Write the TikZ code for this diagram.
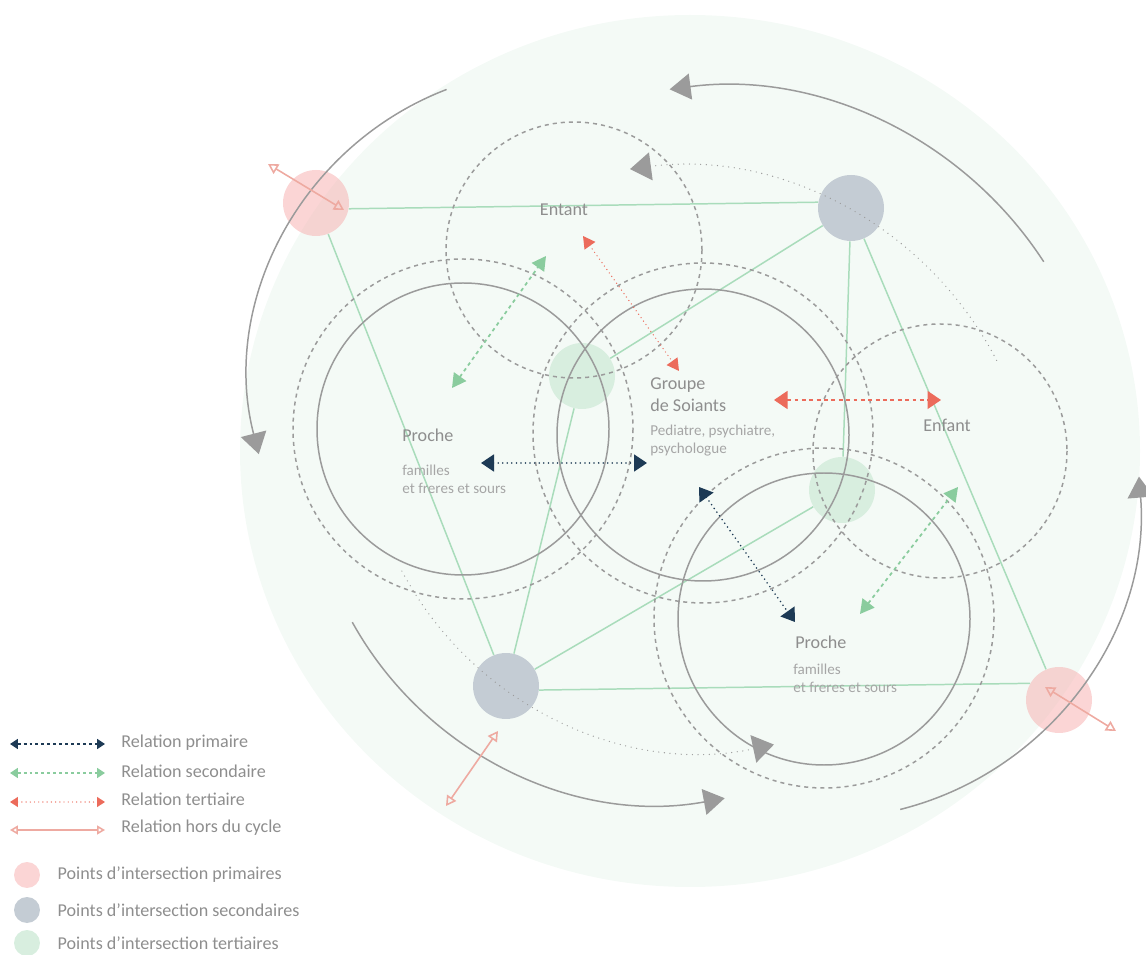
\documentclass[tikz,border=0pt]{standalone}
\usepackage{fontspec}
\setmainfont{Carlito}
\usepackage{xcolor}
\usetikzlibrary{
  arrows.meta,
  positioning
}

\definecolor{mint}{HTML}{F4FAF6}
\definecolor{ringgray}{HTML}{9B9B9B}
\definecolor{linkgreen}{HTML}{A9DCBB}
\definecolor{navy}{HTML}{1D3A55}
\definecolor{sage}{HTML}{8ACC9E}
\definecolor{coral}{HTML}{EC6B5B}
\definecolor{salmon}{HTML}{EEAAA1}
\definecolor{dotpink}{HTML}{F7B3B3}
\definecolor{dotslate}{HTML}{C4CCD4}
\definecolor{dotmint}{HTML}{D8EEDF}
\definecolor{headgray}{HTML}{8E8E8E}
\definecolor{notegray}{HTML}{A6A6A6}

\begin{document}
\begin{tikzpicture}[x=0.02cm, y=-0.02cm,
    ring/.style={draw=ringgray, line width=0.85pt},
    dashring/.style={ring, dash pattern=on 2.3pt off 2.3pt},
    dotarc/.style={draw=ringgray, line width=0.75pt, line cap=round, dash pattern=on 0pt off 3.2pt,
      -{Triangle[length=0.42cm, width=0.56cm]}},
    cyclearc/.style={draw=ringgray, line width=0.85pt, -{Triangle[length=0.42cm, width=0.52cm]}},
    link/.style={draw=linkgreen, line width=0.85pt},
    dot/.style={circle, inner sep=0pt, minimum size=1.32cm},
    keydot/.style={circle, inner sep=0pt, minimum size=0.52cm},
    primary/.style={draw=navy, line width=1pt, line cap=round, dash pattern=on 0pt off 2.6pt,
      {Triangle[length=0.26cm, width=0.34cm]}-{Triangle[length=0.26cm, width=0.34cm]}},
    secondary/.style={draw=sage, line width=1pt, dash pattern=on 2pt off 2pt,
      {Triangle[length=0.28cm, width=0.3cm]}-{Triangle[length=0.28cm, width=0.3cm]}},
    tertiary/.style={draw=coral, line width=0.8pt, line cap=round, dash pattern=on 0pt off 2.4pt,
      {Triangle[length=0.24cm, width=0.26cm]}-{Triangle[length=0.24cm, width=0.26cm]}},
    outside/.style={draw=salmon, line width=0.9pt,
      {Triangle[open, length=0.2cm, width=0.22cm]}-{Triangle[open, length=0.2cm, width=0.22cm]}},
    keytips/.style={{Triangle[length=0.16cm, width=0.2cm]}-{Triangle[length=0.16cm, width=0.2cm]}},
    heading/.style={text=headgray, font=\fontsize{10.3}{12.5}\selectfont, inner sep=0pt, align=left},
    note/.style={text=notegray, font=\fontsize{8.6}{10.2}\selectfont, inner sep=0pt, align=left},
    keytext/.style={text=headgray, font=\fontsize{10.3}{12}\selectfont, inner sep=0pt, anchor=west}]
  \useasboundingbox (0,0) rectangle (1146,955);

  \fill[mint] (690,451) ellipse[x radius=450, y radius=436];

  \node [dot, fill=dotpink, fill opacity=0.55] (pinkA) at (316,203) {};
  \node [dot, fill=dotpink, fill opacity=0.55] (pinkB) at (1059,700) {};
  \node [dot, fill=dotslate] (slateA) at (851,208) {};
  \node [dot, fill=dotslate] (slateB) at (506,686) {};
  \node [dot, fill=dotmint] (mintA) at (582,376) {};
  \node [dot, fill=dotmint] (mintB) at (842,490) {};

  \draw [link] (pinkA.-10) -- (slateA.170);
  \draw [link] (pinkA) -- (slateB);
  \draw [link] (slateA) -- (mintA);
  \draw [link] (slateA) -- (mintB);
  \draw [link] (slateA) -- (pinkB);
  \draw [link] (slateB) -- (mintA);
  \draw [link] (slateB) -- (mintB);
  \draw [link] (slateB.-7) -- (pinkB.150);

  \draw [ring] (463,429) circle[radius=146];
  \draw [ring] (703,435) circle[radius=146];
  \draw [ring] (824,619) circle[radius=146];
  \draw [dashring] (463,429) circle[radius=170];
  \draw [dashring] (703,433) circle[radius=170];
  \draw [dashring] (824,618) circle[radius=170];
  \draw [dashring] (574,250) circle[radius=128];
  \draw [dashring] (940,451) circle[radius=127];

  \draw [dotarc] (677,526) ++(-27.4:360) arc[start angle=-27.4, end angle=-97.5, radius=360];
  \draw [dotarc] (703,411) ++(152:341) arc[start angle=152, end angle=78, radius=341];

  \draw [cyclearc] (720,472) ++(-33:386) arc[start angle=-33, end angle=-97.5, radius=386];
  \draw [cyclearc] (557,377) ++(-111:308) arc[start angle=-111, end angle=-194.5, radius=308];
  \draw [cyclearc] (661,451) ++(151:353) arc[start angle=151, end angle=79.6, radius=353];
  \draw [cyclearc] (823,502) ++(75.9:317) arc[start angle=75.9, end angle=-4.6, radius=317];

  \coordinate (outA1) at (268,164);
  \coordinate (outA2) at (344,210);
  \coordinate (outB1) at (1045,687);
  \coordinate (outB2) at (1116,731);
  \coordinate (outC1) at (498,731);
  \coordinate (outC2) at (446,806);
  \draw [outside] (outA1) -- (outA2);
  \draw [outside] (outB1) -- (outB2);
  \draw [outside] (outC1) -- (outC2);

  \coordinate (priA1) at (481,463);
  \coordinate (priA2) at (647,463);
  \coordinate (priB1) at (699,487);
  \coordinate (priB2) at (795,622);
  \draw [primary] (priA1) -- (priA2);
  \draw [primary] (priB1) -- (priB2);

  \coordinate (secA1) at (452,388);
  \coordinate (secA2) at (546,256);
  \coordinate (secB1) at (860,614);
  \coordinate (secB2) at (958,487);
  \draw [secondary] (secA1) -- (secA2);
  \draw [secondary] (secB1) -- (secB2);

  \coordinate (terA1) at (583,236);
  \coordinate (terA2) at (679,371);
  \coordinate (terB1) at (774,400);
  \coordinate (terB2) at (941,400);
  \draw [tertiary] (terA1) -- (terA2);
  \draw [tertiary, line cap=butt, dash pattern=on 2.2pt off 2pt,
    {Triangle[length=0.27cm, width=0.36cm]}-{Triangle[length=0.27cm, width=0.36cm]}] (terB1) -- (terB2);

  \node [heading] (enfantTop) at (564,210) {Entant};
  \node [heading, anchor=west] (soins) at (650,395) {Groupe\\de Soiants};
  \node [note, anchor=west] (soinsNote) at (650,441) {Pediatre, psychiatre,\\psychologue};
  \node [heading] (enfantRight) at (947,425) {Enfant};
  \node [heading, anchor=west] (procheLeft) at (402,435) {Proche};
  \node [note, anchor=west] (procheLeftNote) at (402,479) {familles\\et freres et sours};
  \node [heading, anchor=west] (procheBottom) at (795,642) {Proche};
  \node [note, anchor=west] (procheBottomNote) at (793,678) {familles\\et freres et sours};

  \coordinate (keyA1) at (10,744);
  \coordinate (keyA2) at (105,744);
  \coordinate (keyB1) at (10,773);
  \coordinate (keyB2) at (105,773);
  \coordinate (keyC1) at (10,802);
  \coordinate (keyC2) at (105,802);
  \coordinate (keyD1) at (10,830);
  \coordinate (keyD2) at (105,830);
  \draw [primary, keytips, line cap=butt, dash pattern=on 1.7pt off 1.7pt] (keyA1) -- (keyA2);
  \draw [secondary, keytips, dash pattern=on 1.7pt off 1.7pt] (keyB1) -- (keyB2);
  \draw [tertiary, keytips] (keyC1) -- (keyC2);
  \draw [outside, {Triangle[open, length=0.16cm, width=0.18cm]}-{Triangle[open, length=0.16cm, width=0.18cm]}] (keyD1) -- (keyD2);
  \node [keytext] (keyPrimary) at (121,743) {Relation primaire};
  \node [keytext] (keySecondary) at (121,771) {Relation secondaire};
  \node [keytext] (keyTertiary) at (121,799) {Relation tertiaire};
  \node [keytext] (keyOutside) at (121,828) {Relation hors du cycle};

  \node [keydot, fill=dotpink, fill opacity=0.55] (keyPink) at (27,875) {};
  \node [keydot, fill=dotslate] (keySlate) at (27,910) {};
  \node [keydot, fill=dotmint] (keyMint) at (27,943) {};
  \node [keytext, right=0.34cm of keyPink] {Points d’intersection primaires};
  \node [keytext, right=0.34cm of keySlate] {Points d’intersection secondaires};
  \node [keytext, right=0.34cm of keyMint] {Points d’intersection tertiaires};
\end{tikzpicture}
\end{document}
